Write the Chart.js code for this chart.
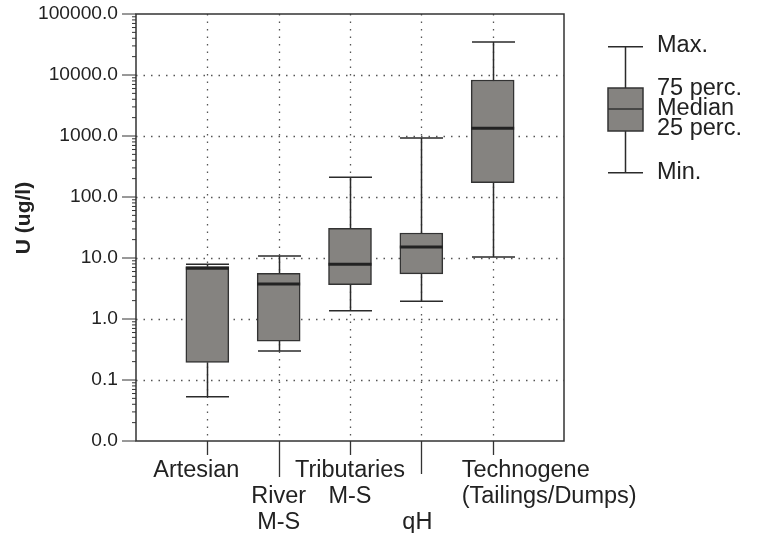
<!DOCTYPE html>
<html>
<head>
<meta charset="utf-8">
<script src="https://cdn.jsdelivr.net/npm/chart.js@4/dist/chart.umd.min.js"></script>
<style>
  html, body { margin: 0; padding: 0; background: #fff; }
  #wrap { width: 758px; height: 533px; }
</style>
</head>
<body>
<div id="wrap"><canvas id="box" width="758" height="533"></canvas></div>
<script>
// categories (tick label lines) and box plot stats
const categories = [['Artesian'], ['River', 'M-S'], ['Tributaries', 'M-S'], ['qH'], ['Technogene', '(Tailings/Dumps)']];
const minVals    = [0.053, 0.30, 1.37, 1.95, 10.4];
const q1Vals     = [0.195, 0.435, 3.65, 5.5, 171];
const medianVals = [6.8, 3.75, 7.9, 15.1, 1340];
const q3Vals     = [7.2, 5.6, 30.7, 25.7, 8280];
const maxVals    = [7.9, 10.8, 210, 927, 34800];
const yTicks     = [0.01, 0.1, 1, 10, 100, 1000, 10000, 100000];
const yTitle = 'U (ug/l)';
const legendText = ['Max.', '75 perc.', 'Median', '25 perc.', 'Min.'];

// layout of the staggered category labels
const labelRow  = [0, 1, 0, 2, 0];
const labelDx   = [-11, 0, 0, -4, -31];
const labelAlign = ['center', 'center', 'center', 'center', 'left'];
const xTickLen  = [14, 36, 14, 33, 14];

const FONT = "'Liberation Sans', Arial, sans-serif";
const INK = '#222';
const BOX_FILL = '#858380';
const BOX_LINE = '#333';
const HALF = 21.5;

Chart.defaults.font.family = FONT;
Chart.defaults.color = INK;

const boxPlotPlugin = {
  id: 'boxPlotExtras',
  beforeDatasetsDraw(chart) {
    const { ctx, chartArea: a, scales: { x, y } } = chart;
    ctx.save();
    // dotted grid
    ctx.strokeStyle = '#555';
    ctx.lineWidth = 1.3;
    ctx.setLineDash([1.5, 6]);
    yTicks.slice(1, -1).forEach(v => {
      const py = Math.round(y.getPixelForValue(v)) + 0.5;
      ctx.beginPath();
      ctx.moveTo(a.left, py);
      ctx.lineTo(a.right, py);
      ctx.stroke();
    });
    categories.forEach((c, i) => {
      const px = Math.round(x.getPixelForValue(i + 1)) + 0.5;
      ctx.beginPath();
      ctx.moveTo(px, a.top);
      ctx.lineTo(px, a.bottom);
      ctx.stroke();
    });
    ctx.setLineDash([]);
    // whiskers
    ctx.strokeStyle = '#2b2b2b';
    ctx.lineWidth = 1.5;
    categories.forEach((c, i) => {
      const px = Math.round(x.getPixelForValue(i + 1)) + 0.5;
      const yMin = y.getPixelForValue(minVals[i]);
      const yMax = y.getPixelForValue(maxVals[i]);
      ctx.beginPath();
      ctx.moveTo(px, yMin); ctx.lineTo(px, y.getPixelForValue(q1Vals[i]));
      ctx.moveTo(px, y.getPixelForValue(q3Vals[i])); ctx.lineTo(px, yMax);
      ctx.moveTo(px - HALF, yMin); ctx.lineTo(px + HALF, yMin);
      ctx.moveTo(px - HALF, yMax); ctx.lineTo(px + HALF, yMax);
      ctx.stroke();
    });
    ctx.restore();
  },
  afterDatasetsDraw(chart) {
    const { ctx, chartArea: a, scales: { x, y } } = chart;
    ctx.save();
    // medians
    ctx.strokeStyle = INK;
    ctx.lineWidth = 3;
    categories.forEach((c, i) => {
      const px = x.getPixelForValue(i + 1);
      const py = y.getPixelForValue(medianVals[i]);
      ctx.beginPath();
      ctx.moveTo(px - HALF, py);
      ctx.lineTo(px + HALF, py);
      ctx.stroke();
    });
    // frame
    ctx.strokeStyle = BOX_LINE;
    ctx.lineWidth = 1.5;
    ctx.strokeRect(a.left, a.top, a.right - a.left, a.bottom - a.top);
    // y ticks, major + minor
    ctx.beginPath();
    yTicks.forEach((v, k) => {
      const py = y.getPixelForValue(v);
      ctx.moveTo(a.left - 14, py); ctx.lineTo(a.left, py);
      if (k < yTicks.length - 1) {
        for (let m = 2; m <= 9; m++) {
          const pm = y.getPixelForValue(v * m);
          ctx.moveTo(a.left - 4, pm); ctx.lineTo(a.left, pm);
        }
      }
    });
    ctx.lineWidth = 1;
    ctx.stroke();
    // x ticks
    ctx.lineWidth = 1.3;
    ctx.beginPath();
    categories.forEach((c, i) => {
      const px = Math.round(x.getPixelForValue(i + 1)) + 0.5;
      ctx.moveTo(px, a.bottom); ctx.lineTo(px, a.bottom + xTickLen[i]);
    });
    ctx.stroke();
    // x labels
    ctx.fillStyle = INK;
    ctx.font = '23.5px ' + FONT;
    ctx.textBaseline = 'middle';
    categories.forEach((lines, i) => {
      const px = x.getPixelForValue(i + 1) + labelDx[i];
      ctx.textAlign = labelAlign[i];
      lines.forEach((t, j) => {
        ctx.fillText(t, px, a.bottom + 30 + (labelRow[i] + j) * 26);
      });
    });
    // y title
    ctx.save();
    ctx.translate(24, 218);
    ctx.rotate(-Math.PI / 2);
    ctx.font = 'bold 21px ' + FONT;
    ctx.textAlign = 'center';
    ctx.fillText(yTitle, 0, 0);
    ctx.restore();
    // key on the right
    const cx = 625.5, lt = [46.7, 88, 109, 131, 172.7];
    ctx.strokeStyle = '#2b2b2b';
    ctx.lineWidth = 1.5;
    ctx.beginPath();
    ctx.moveTo(cx, lt[0]); ctx.lineTo(cx, lt[1]);
    ctx.moveTo(cx, lt[3]); ctx.lineTo(cx, lt[4]);
    ctx.moveTo(cx - 17.5, lt[0]); ctx.lineTo(cx + 17.5, lt[0]);
    ctx.moveTo(cx - 17.5, lt[4]); ctx.lineTo(cx + 17.5, lt[4]);
    ctx.stroke();
    ctx.fillStyle = BOX_FILL;
    ctx.fillRect(cx - 17.5, lt[1], 35, lt[3] - lt[1]);
    ctx.strokeStyle = BOX_LINE;
    ctx.strokeRect(cx - 17.5, lt[1], 35, lt[3] - lt[1]);
    ctx.beginPath();
    ctx.moveTo(cx - 17.5, lt[2]); ctx.lineTo(cx + 17.5, lt[2]);
    ctx.stroke();
    ctx.fillStyle = INK;
    ctx.font = '23.5px ' + FONT;
    ctx.textAlign = 'left';
    const ty = [45.5, 89, 108.5, 129, 172.5];
    legendText.forEach((t, k) => ctx.fillText(t, 657, ty[k]));
    ctx.restore();
  }
};

new Chart(document.getElementById('box'), {
  type: 'bar',
  data: {
    labels: ['', ...categories.map(c => c.join(' ')), ''],
    datasets: [{
      label: 'IQR',
      data: [null, ...q1Vals.map((q, i) => [q, q3Vals[i]]), null],
      backgroundColor: BOX_FILL,
      borderColor: BOX_LINE,
      borderWidth: 1.5,
      borderSkipped: false,
      barThickness: 43
    }]
  },
  options: {
    responsive: false,
    animation: false,
    layout: { padding: { top: 14, right: 194, left: 0, bottom: 0 } },
    plugins: { legend: { display: false }, tooltip: { enabled: false } },
    scales: {
      x: {
        offset: false,
        grid: { display: false, drawTicks: false },
        border: { display: false },
        ticks: { display: false },
        afterFit(s) { s.height = 92; }
      },
      y: {
        type: 'logarithmic',
        min: 0.01,
        max: 100000,
        grid: { display: false, drawTicks: false },
        border: { display: false },
        afterBuildTicks(s) { s.ticks = yTicks.map(v => ({ value: v })); },
        ticks: {
          padding: 18,
          color: INK,
          font: { size: 19.2 },
          callback: v => Number(v).toFixed(1)
        },
        afterFit(s) {
          s.width = 136;
          s.paddingTop = 0;
          s.paddingBottom = 0;
        }
      }
    }
  },
  plugins: [boxPlotPlugin]
});
</script>
</body>
</html>
